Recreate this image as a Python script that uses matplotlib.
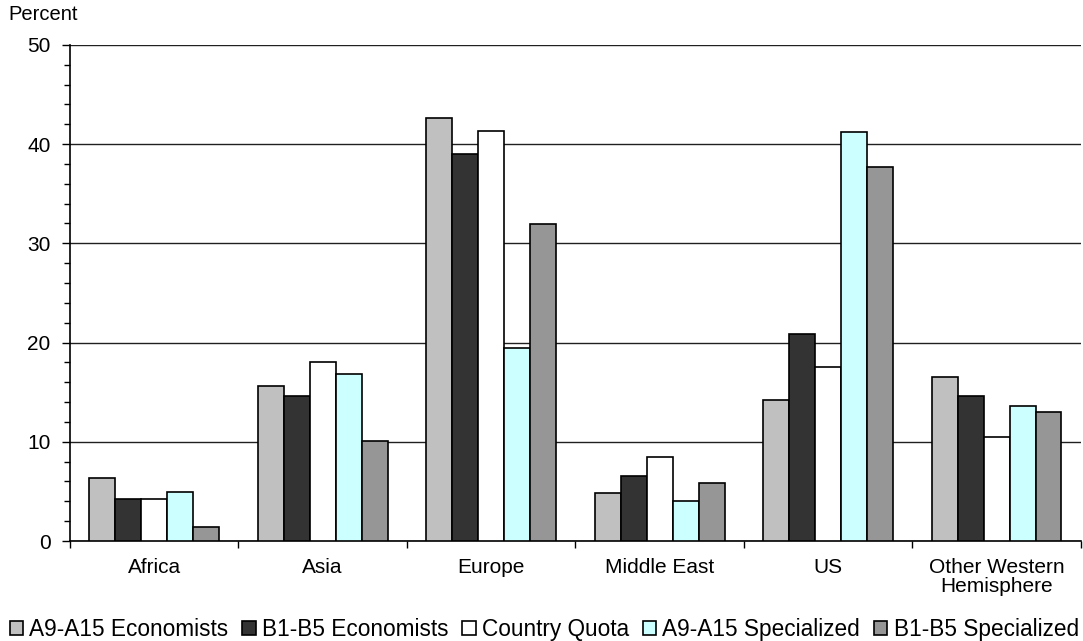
import matplotlib
matplotlib.use("Agg")
import matplotlib.pyplot as plt
import numpy as np
from matplotlib.ticker import MultipleLocator, FixedLocator

plt.rcParams['font.family'] = ['Liberation Sans', 'DejaVu Sans']

categories = ["Africa", "Asia", "Europe", "Middle East", "US", "Other Western\nHemisphere"]
series_names = ["A9-A15 Economists", "B1-B5 Economists", "Country Quota",
                "A9-A15 Specialized", "B1-B5 Specialized"]
a9_econ = [6.3, 15.6, 42.6, 4.8, 14.2, 16.5]
b1_econ = [4.2, 14.6, 39.0, 6.6, 20.9, 14.6]
country_quota = [4.2, 18.0, 41.3, 8.5, 17.5, 10.5]
a9_spec = [4.9, 16.8, 19.5, 4.0, 41.2, 13.6]
b1_spec = [1.4, 10.1, 31.9, 5.8, 37.7, 13.0]
series = [a9_econ, b1_econ, country_quota, a9_spec, b1_spec]
colors = ["#C0C0C0", "#333333", "#FFFFFF", "#CCFFFF", "#969696"]

fig = plt.figure(figsize=(10.83, 6.41), dpi=100)
ax = fig.add_axes([0.0646, 0.156, 0.9334, 0.774])

x = np.arange(len(categories))
w = 0.154
for i, (vals, c, name) in enumerate(zip(series, colors, series_names)):
    ax.bar(x + (i - 2) * w, vals, width=w, color=c, edgecolor="black",
           linewidth=1.2, label=name, zorder=3)

ax.set_xlim(-0.5, len(categories) - 0.5)
ax.set_ylim(0, 50)
ax.yaxis.set_major_locator(MultipleLocator(10))
ax.yaxis.set_minor_locator(MultipleLocator(2))
ax.grid(axis="y", which="major", color="#202020", linewidth=1.0, zorder=0)

ax.set_xticks(x)
ax.set_xticklabels(categories, fontsize=15, linespacing=1.0)
ax.xaxis.set_minor_locator(FixedLocator(np.arange(-0.5, len(categories), 1.0)))
ax.tick_params(axis="x", which="major", length=0, pad=12)
ax.tick_params(axis="x", which="minor", length=5, width=1, direction="out")
ax.tick_params(axis="y", which="major", length=6, width=1, labelsize=15,
               direction="out", pad=8)
ax.tick_params(axis="y", which="minor", length=4, width=1, direction="out")

for s in ["top", "right"]:
    ax.spines[s].set_visible(False)
ax.spines["left"].set_linewidth(1.2)
ax.spines["bottom"].set_linewidth(1.2)

fig.text(0.008, 0.977, "Percent", fontsize=14.5, ha="left", va="center")

fig.legend(loc="center left", bbox_to_anchor=(0.009, 0.018), ncol=5, frameon=False,
           fontsize=16.3, handlelength=0.58, handleheight=0.58, handletextpad=0.28,
           columnspacing=0.62, borderaxespad=0, borderpad=0)

fig.savefig("out.png", dpi=100)
